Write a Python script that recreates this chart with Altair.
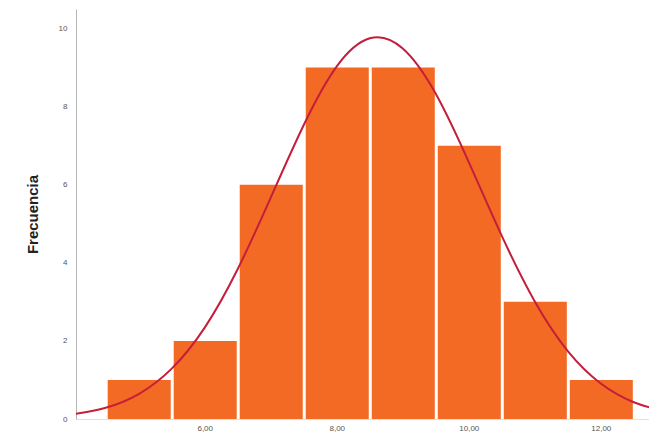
import altair as alt
import pandas as pd

# Histogram bins (class limits) and frequencies
bin_start = [4.5, 5.5, 6.5, 7.5, 8.5, 9.5, 10.5, 11.5]
bin_end = [5.5, 6.5, 7.5, 8.5, 9.5, 10.5, 11.5, 12.5]
counts = [1, 2, 6, 9, 9, 7, 3, 1]

# Normal curve, points
curve_x = [4.0, 4.5, 5.0, 5.5, 6.0, 6.5, 7.0, 7.5, 8.0, 8.5, 9.0, 9.5,
           10.0, 10.5, 11.0, 11.5, 12.0, 12.5, 13.0]
curve_y = [0.12, 0.29, 0.64, 1.29, 2.34, 3.84, 5.67, 7.53, 9.03, 9.75, 9.49,
           8.33, 6.58, 4.69, 3.01, 1.74, 0.91, 0.43, 0.18]

x_ticks = [6, 8, 10, 12]
y_ticks = [0, 2, 4, 6, 8, 10]

bars_df = pd.DataFrame({"start": bin_start, "end": bin_end, "count": counts})
curve_df = pd.DataFrame({"x": curve_x, "y": curve_y})

x_scale = alt.Scale(domain=[4.05, 12.73], nice=False, zero=False)
y_scale = alt.Scale(domain=[0, 10.5], nice=False)

x_axis = alt.Axis(
    values=x_ticks,
    labelExpr="format(datum.value, 'd') + ',00'",
    title=None,
    ticks=False,
    grid=False,
    labelFontSize=8,
    labelColor="#555555",
    labelPadding=5,
    domainColor="#d6e4e4",
    labelFont="Liberation Sans",
)
y_axis = alt.Axis(
    values=y_ticks,
    format="d",
    title="Frecuencia",
    ticks=False,
    grid=False,
    labelFontSize=8,
    labelColor="#555555",
    labelPadding=9,
    domainColor="#b5b5b5",
    titleFontSize=15,
    titleFontWeight="bold",
    titleColor="#222222",
    titlePadding=18,
    titleFont="Liberation Sans",
    labelFont="Liberation Sans",
)

bars = alt.Chart(bars_df).mark_bar(
    color="#F26A24", binSpacing=3
).encode(
    x=alt.X("start:Q", bin="binned", scale=x_scale, axis=x_axis),
    x2="end:Q",
    y=alt.Y("count:Q", scale=y_scale, axis=y_axis),
)

curve = alt.Chart(curve_df).mark_line(
    color="#C41E3A", strokeWidth=2, interpolate="natural", clip=True
).encode(
    x=alt.X("x:Q", scale=x_scale),
    y=alt.Y("y:Q", scale=y_scale),
)

chart = alt.layer(bars, curve).properties(
    width=573,
    height=410,
    autosize=alt.AutoSizeParams(type="none"),
    padding={"left": 68, "top": 1, "right": 0, "bottom": 16},
).configure_view(stroke=None)

chart.save("out.html", embed_options={"renderer": "svg", "actions": False})
